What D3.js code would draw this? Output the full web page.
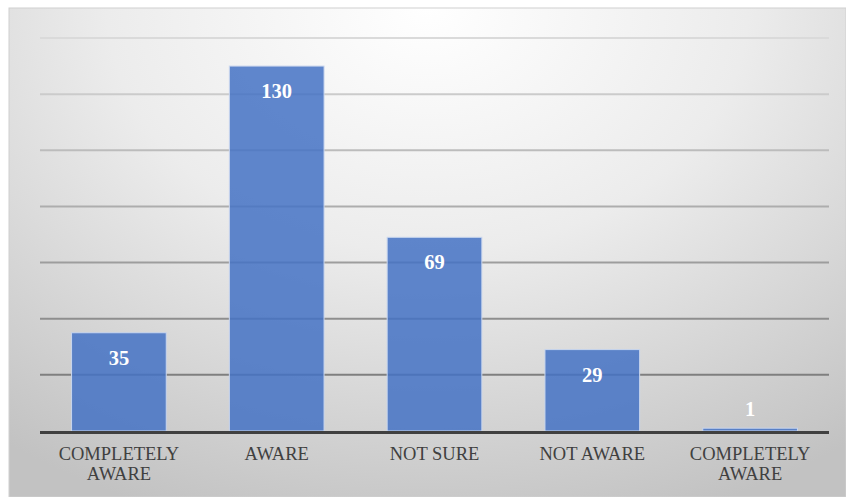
<!DOCTYPE html>
<html>
<head>
<meta charset="utf-8">
<script src="https://cdn.jsdelivr.net/npm/d3@7"></script>
<style>
  body { margin: 0; background: #fff; }
  svg { display: block; }
  text { font-family: "Liberation Serif", "Times New Roman", Times, "DejaVu Serif", serif; }
</style>
</head>
<body>
<svg width="846" height="497"></svg>
<script>
// chart data
const categories = ["COMPLETELY AWARE", "AWARE", "NOT SURE", "NOT AWARE", "COMPLETELY AWARE"];
const values = [35, 130, 69, 29, 1];
const yTicks = [20, 40, 60, 80, 100, 120, 140];

const svg = d3.select("svg");
const width = Number(svg.attr("width"));
const height = Number(svg.attr("height"));
const margin = { top: 38, right: 17, bottom: 66, left: 40 };

// background gradient
const defs = svg.append("defs");
const bg = defs.append("radialGradient")
    .attr("id", "bg")
    .attr("cx", "50%").attr("cy", "0%")
    .attr("r", "85%")
    .attr("gradientTransform", "translate(0.5,0) scale(1,1.3) translate(-0.5,0)");
bg.append("stop").attr("offset", "0%").attr("stop-color", "#ffffff");
bg.append("stop").attr("offset", "45%").attr("stop-color", "#ececec");
bg.append("stop").attr("offset", "100%").attr("stop-color", "#c2c2c2");

svg.append("rect")
    .attr("x", 9).attr("y", 8)
    .attr("width", width - 9).attr("height", height - 8)
    .attr("fill", "url(#bg)")
    .attr("stroke", "#d0d0d0");

const x = d3.scaleBand()
    .domain(d3.range(categories.length))
    .range([margin.left, width - margin.right])
    .paddingInner(0.4)
    .paddingOuter(0.2);

const y = d3.scaleLinear()
    .domain([0, 140])
    .range([height - margin.bottom, margin.top]);

// gridlines, darker toward the bottom
const gridColor = d3.scaleLinear().domain([140, 20]).range(["#dadada", "#7f7f7f"]);
svg.append("g")
    .selectAll("line")
    .data(yTicks)
    .join("line")
    .attr("x1", margin.left)
    .attr("x2", width - margin.right)
    .attr("y1", d => y(d))
    .attr("y2", d => y(d))
    .attr("stroke", d => gridColor(d))
    .attr("stroke-width", 2);

// bars
svg.append("g")
    .selectAll("rect")
    .data(values)
    .join("rect")
    .attr("x", (d, i) => x(i))
    .attr("y", d => y(d))
    .attr("width", x.bandwidth())
    .attr("height", d => y(0) - y(d))
    .attr("fill", "#4472c4")
    .attr("fill-opacity", 0.85)
    .attr("stroke", "#c9d6ee")
    .attr("stroke-width", 1);

// axis line
svg.append("line")
    .attr("x1", margin.left)
    .attr("x2", width - margin.right)
    .attr("y1", y(0) + 1.5)
    .attr("y2", y(0) + 1.5)
    .attr("stroke", "#404040")
    .attr("stroke-width", 3);

// value labels
svg.append("g")
    .selectAll("text")
    .data(values)
    .join("text")
    .attr("x", (d, i) => x(i) + x.bandwidth() / 2)
    .attr("y", d => (y(0) - y(d) > 40 ? y(d) + 25 : y(d) - 19))
    .attr("dy", "0.35em")
    .attr("text-anchor", "middle")
    .attr("font-weight", "bold")
    .attr("font-size", 20.5)
    .attr("fill", "#ffffff")
    .text(d => d);

// category labels, wrapped to two lines where needed
const catGroup = svg.append("g");
categories.forEach((c, i) => {
    const words = c === "NOT SURE" || c === "NOT AWARE" ? [c] : c.split(" ");
    const t = catGroup.append("text")
        .attr("x", x(i) + x.bandwidth() / 2)
        .attr("y", 460)
        .attr("text-anchor", "middle")
        .attr("font-size", 18.5)
        .attr("fill", "#404040");
    words.forEach((w, j) => {
        t.append("tspan")
            .attr("x", x(i) + x.bandwidth() / 2)
            .attr("dy", j === 0 ? 0 : 20)
            .text(w);
    });
});
</script>
</body>
</html>
